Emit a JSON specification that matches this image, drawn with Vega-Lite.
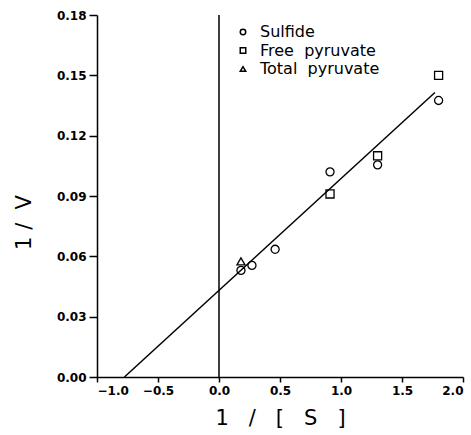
{
  "$schema": "https://vega.github.io/schema/vega-lite/v6.json",
  "width": 366,
  "height": 362,
  "autosize": {"type": "none"},
  "padding": {"left": 97, "top": 15, "right": 8, "bottom": 58},
  "background": "white",
  "config": {
    "view": {"stroke": null},
    "font": "DejaVu Sans",
    "axis": {
      "grid": false,
      "domainColor": "black",
      "domainWidth": 1.5,
      "tickColor": "black",
      "tickWidth": 1.5,
      "labelColor": "black",
      "labelFont": "DejaVu Sans",
      "labelFontWeight": "bold",
      "labelFontSize": 12,
      "labelPadding": 3,
      "titleFont": "DejaVu Sans",
      "titleFontWeight": "normal",
      "titleFontSize": 21,
      "titleColor": "black"
    }
  },
  "datasets": {
    "points": [
      {"series": "Sulfide", "s": 0.18, "v": 0.053},
      {"series": "Sulfide", "s": 0.27, "v": 0.0555},
      {"series": "Sulfide", "s": 0.46, "v": 0.0635},
      {"series": "Sulfide", "s": 0.91, "v": 0.102},
      {"series": "Sulfide", "s": 1.30, "v": 0.1055},
      {"series": "Sulfide", "s": 1.80, "v": 0.1375},
      {"series": "Free\u00a0\u00a0pyruvate", "s": 0.91, "v": 0.091},
      {"series": "Free\u00a0\u00a0pyruvate", "s": 1.30, "v": 0.110},
      {"series": "Free\u00a0\u00a0pyruvate", "s": 1.80, "v": 0.150},
      {"series": "Total\u00a0\u00a0pyruvate", "s": 0.18, "v": 0.0575}
    ],
    "fit": [
      {"s": -0.775, "v": 0.0},
      {"s": 1.77, "v": 0.1415}
    ],
    "zero": [
      {"s": 0, "v": 0},
      {"s": 0, "v": 0.18}
    ]
  },
  "layer": [
    {
      "data": {"name": "zero"},
      "mark": {"type": "line", "color": "black", "strokeWidth": 1.5},
      "encoding": {
        "x": {"field": "s", "type": "quantitative"},
        "y": {"field": "v", "type": "quantitative"}
      }
    },
    {
      "data": {"name": "fit"},
      "mark": {"type": "line", "color": "black", "strokeWidth": 1.5},
      "encoding": {
        "x": {"field": "s", "type": "quantitative"},
        "y": {"field": "v", "type": "quantitative"}
      }
    },
    {
      "data": {"name": "points"},
      "mark": {"type": "point", "filled": false, "color": "black", "strokeWidth": 1.3, "size": 65, "opacity": 1},
      "encoding": {
        "x": {
          "field": "s", "type": "quantitative",
          "scale": {"domain": [-1, 2], "nice": false, "zero": false},
          "axis": {"values": [-1, -0.5, 0, 0.5, 1, 1.5, 2], "format": ".1f", "title": "1\u00a0\u00a0\u00a0/\u00a0\u00a0\u00a0[\u00a0\u00a0\u00a0S\u00a0\u00a0\u00a0]", "titlePadding": 11, "tickSize": 5}
        },
        "y": {
          "field": "v", "type": "quantitative",
          "scale": {"domain": [0, 0.18], "nice": false},
          "axis": {"values": [0, 0.03, 0.06, 0.09, 0.12, 0.15, 0.18], "format": ".2f", "title": "1\u00a0/\u00a0\u00a0V", "titlePadding": 22, "titleY": 207, "tickSize": 8}
        },
        "shape": {
          "field": "series", "type": "nominal",
          "scale": {"domain": ["Sulfide", "Free\u00a0\u00a0pyruvate", "Total\u00a0\u00a0pyruvate"], "range": ["circle", "square", "triangle-up"]},
          "legend": {
            "orient": "none",
            "legendX": 138,
            "legendY": 9,
            "title": null,
            "symbolSize": 30,
            "symbolStrokeColor": "black",
            "symbolStrokeWidth": 1.5,
            "symbolFillColor": "transparent",
            "labelFont": "DejaVu Sans",
            "labelFontSize": 16,
            "labelColor": "black",
            "rowPadding": 2.5,
            "labelOffset": 9,
            "labelLimit": 300
          }
        }
      }
    }
  ]
}
